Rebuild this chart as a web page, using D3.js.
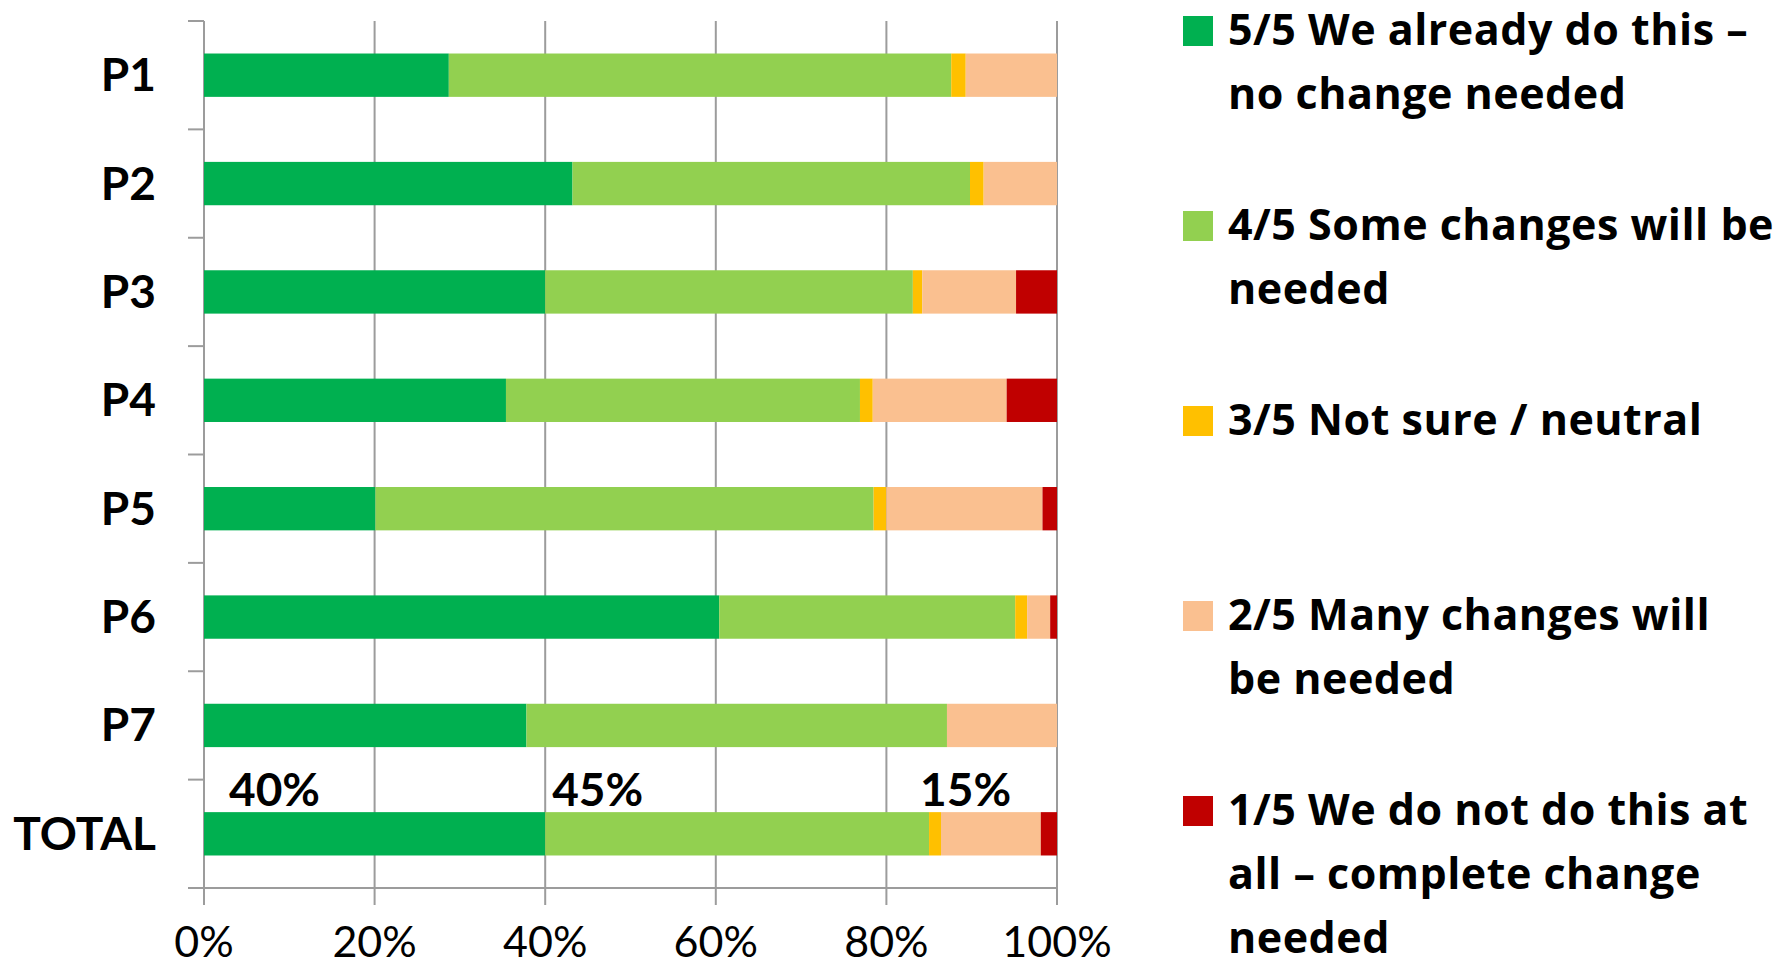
<!DOCTYPE html>
<html>
<head>
<meta charset="utf-8">
<script src="https://cdn.jsdelivr.net/npm/d3@7"></script>
<style>
  body { margin: 0; background: #ffffff; }
  svg { display: block; }
</style>
</head>
<body>
<svg id="chart" width="1786" height="967"></svg>
<script>
// Survey response shares (percent of respondents) per principle
const categories = ["P1", "P2", "P3", "P4", "P5", "P6", "P7", "TOTAL"];
const seriesKeys = ["s5", "s4", "s3", "s2", "s1"];
const seriesLabels = [
  ["5/5 We already do this \u2013", "no change needed"],
  ["4/5 Some changes will be", "needed"],
  ["3/5 Not sure / neutral"],
  ["2/5 Many changes will", "be needed"],
  ["1/5 We do not do this at", "all \u2013 complete change", "needed"]
];
const seriesColors = ["#00B050", "#92D050", "#FFC000", "#FAC090", "#C00000"];
const score5 = [28.7, 43.2, 40.0, 35.4, 20.1, 60.4, 37.8, 40.0];
const score4 = [58.9, 46.6, 43.1, 41.5, 58.4, 34.7, 49.3, 45.0];
const score3 = [1.7, 1.6, 1.1, 1.5, 1.5, 1.4, 0.0, 1.4];
const score2 = [10.7, 8.6, 11.0, 15.7, 18.3, 2.7, 12.9, 11.7];
const score1 = [0.0, 0.0, 4.8, 5.9, 1.7, 0.8, 0.0, 1.9];
const xTicks = [0, 20, 40, 60, 80, 100];
const xTickLabels = ["0%", "20%", "40%", "60%", "80%", "100%"];

const rows = categories.map((c, i) => ({
  cat: c, s5: score5[i], s4: score4[i], s3: score3[i], s2: score2[i], s1: score1[i]
}));
const stacked = d3.stack().keys(seriesKeys)(rows);

const svg = d3.select("#chart");
const FONT = "Lato, 'Open Sans', 'Liberation Sans', sans-serif";
const LEGEND_FONT = "'Open Sans', Lato, 'Liberation Sans', sans-serif";
const GRID = "#9c9c9c";

const plotLeft = 204, plotRight = 1057, plotTop = 21, plotBottom = 888;
const x = d3.scaleLinear().domain([0, 100]).range([plotLeft, plotRight]);
const y = d3.scaleBand().domain(categories).range([plotTop, plotBottom])
  .paddingInner(0.6).paddingOuter(0.3);

// vertical gridlines, continuing below the axis as tick marks
svg.append("g").selectAll("line").data(xTicks).join("line")
  .attr("x1", d => x(d)).attr("x2", d => x(d))
  .attr("y1", plotTop).attr("y2", plotBottom + 17)
  .attr("stroke", GRID).attr("stroke-width", 2);

// category axis line and tick marks between categories
const step = y.step();
svg.append("line")
  .attr("x1", plotLeft).attr("x2", plotLeft).attr("y1", plotTop).attr("y2", plotBottom)
  .attr("stroke", GRID).attr("stroke-width", 2);
svg.append("g").selectAll("line").data(d3.range(categories.length + 1)).join("line")
  .attr("x1", plotLeft - 16).attr("x2", plotLeft)
  .attr("y1", i => plotTop + i * step).attr("y2", i => plotTop + i * step)
  .attr("stroke", GRID).attr("stroke-width", 2);
// value axis baseline
svg.append("line")
  .attr("x1", plotLeft - 16).attr("x2", plotRight + 1)
  .attr("y1", plotBottom).attr("y2", plotBottom)
  .attr("stroke", GRID).attr("stroke-width", 2);

// stacked bars
svg.append("g").selectAll("g").data(stacked).join("g")
  .attr("fill", (d, i) => seriesColors[i])
  .selectAll("rect").data(d => d).join("rect")
  .attr("x", d => x(d[0]))
  .attr("y", d => y(d.data.cat))
  .attr("width", d => Math.max(0, x(d[1]) - x(d[0])))
  .attr("height", y.bandwidth());

// category labels
svg.append("g").selectAll("text").data(categories).join("text")
  .attr("x", 156)
  .attr("y", d => y(d) + y.bandwidth() / 2 + 16)
  .attr("text-anchor", "end")
  .attr("font-family", FONT).attr("font-weight", 700).attr("font-size", 46)
  .attr("fill", "#000").text(d => d);

// value axis labels
svg.append("g").selectAll("text").data(xTicks).join("text")
  .attr("x", d => x(d)).attr("y", 957)
  .attr("text-anchor", "middle")
  .attr("font-family", FONT).attr("font-weight", 400).attr("font-size", 43)
  .attr("fill", "#000").text((d, i) => xTickLabels[i]);

// summary labels above the TOTAL bar: 5/5, 4/5, and all remaining answers
const ti = categories.indexOf("TOTAL");
const groups = [
  { start: 0, value: score5[ti], dx: 25 },
  { start: score5[ti], value: score4[ti], dx: 7 },
  { start: score5[ti] + score4[ti], value: score3[ti] + score2[ti] + score1[ti], dx: -9 }
];
svg.append("g").selectAll("text").data(groups).join("text")
  .attr("x", d => x(d.start) + d.dx)
  .attr("y", y("TOTAL") - 6)
  .attr("font-family", FONT).attr("font-weight", 700).attr("font-size", 46)
  .attr("fill", "#000").text(d => Math.round(d.value) + "%");

// legend
const legendBase = [45, 240, 435, 630, 825];
const legend = svg.append("g").selectAll("g").data(seriesLabels).join("g")
  .attr("transform", (d, i) => `translate(0,${legendBase[i]})`);
legend.append("rect")
  .attr("x", 1183).attr("y", -29).attr("width", 30).attr("height", 30)
  .attr("fill", (d, i) => seriesColors[i]);
legend.append("text")
  .attr("font-family", LEGEND_FONT).attr("font-weight", 700).attr("font-size", 43)
  .attr("letter-spacing", 0.5)
  .attr("fill", "#000")
  .selectAll("tspan").data(d => d).join("tspan")
  .attr("x", 1228).attr("y", (d, j) => j * 64).text(d => d);
</script>
</body>
</html>
